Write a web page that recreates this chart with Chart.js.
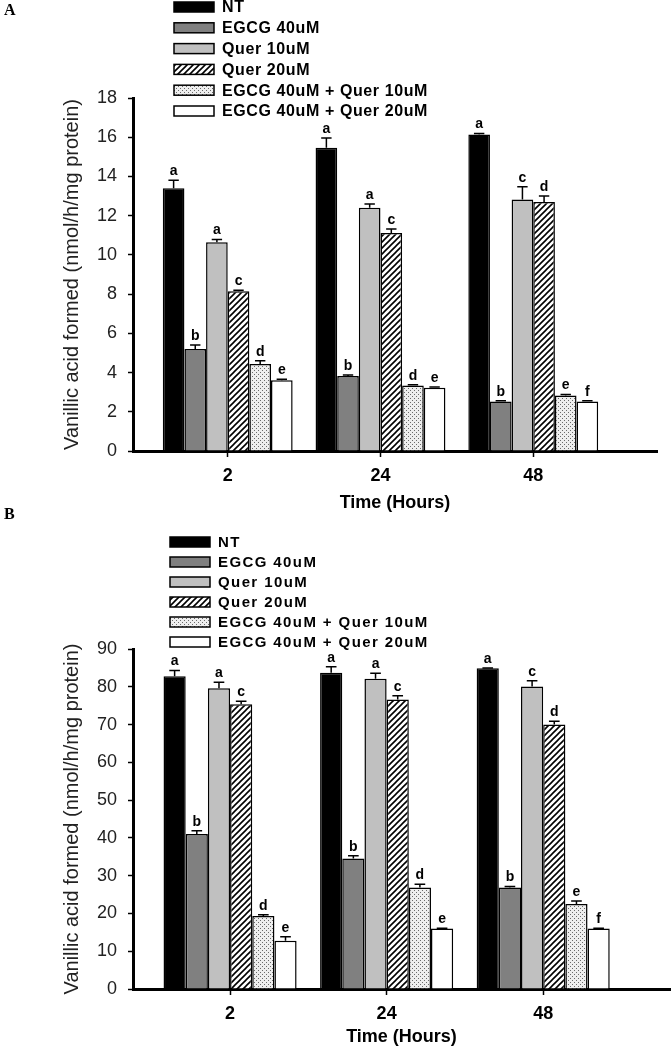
<!DOCTYPE html>
<html>
<head>
<meta charset="utf-8">
<script src="https://cdn.jsdelivr.net/npm/chart.js@4.4.1/dist/chart.umd.min.js"></script>
<style>
    html, body { margin: 0; padding: 0; background: #fff; }
    body { width: 671px; height: 1050px; position: relative; overflow: hidden; }
    canvas { position: absolute; left: 0; }
    #chartA { top: 0; }
    #chartB { top: 500px; }
</style>
</head>
<body>
<canvas id="chartA" width="671" height="525"></canvas>
<canvas id="chartB" width="671" height="550"></canvas>
<script>
// time points (hours)
const timeLabels = ['2', '24', '48'];
const seriesNames = ['NT', 'EGCG 40uM', 'Quer 10uM', 'Quer 20uM', 'EGCG 40uM + Quer 10uM', 'EGCG 40uM + Quer 20uM'];

// panel A values
const ntA = [13.4, 15.46, 16.14];
const egcgA = [5.2, 3.83, 2.52];
const quer10A = [10.64, 12.4, 12.82];
const quer20A = [8.14, 11.12, 12.7];
const mix10A = [4.44, 3.34, 2.83];
const mix20A = [3.61, 3.22, 2.52];
// panel A error (upper)
const ntErrA = [0.4, 0.5, 0.05];
const egcgErrA = [0.2, 0.05, 0.04];
const quer10ErrA = [0.14, 0.2, 0.65];
const quer20ErrA = [0.06, 0.2, 0.3];
const mix10ErrA = [0.16, 0.04, 0.05];
const mix20ErrA = [0.05, 0.04, 0.04];
// panel A significance letters
const lettersA = [
    ['a', 'a', 'a'],
    ['b', 'b', 'b'],
    ['a', 'a', 'c'],
    ['c', 'c', 'd'],
    ['d', 'd', 'e'],
    ['e', 'e', 'f']
];
const yTicksA = [0, 2, 4, 6, 8, 10, 12, 14, 16, 18];

// panel B values
const ntB = [82.8, 83.7, 84.9];
const egcgB = [41.0, 34.55, 26.9];
const quer10B = [79.6, 82.1, 80.1];
const quer20B = [75.4, 76.6, 70.0];
const mix10B = [19.35, 26.9, 22.5];
const mix20B = [12.8, 16.0, 16.0];
const ntErrB = [1.5, 1.6, 0.1];
const egcgErrB = [0.9, 0.7, 0.2];
const quer10ErrB = [1.6, 1.5, 1.5];
const quer20ErrB = [0.8, 1.0, 0.9];
const mix10ErrB = [0.3, 0.8, 0.8];
const mix20ErrB = [1.0, 0.1, 0.1];
const lettersB = [
    ['a', 'a', 'a'],
    ['b', 'b', 'b'],
    ['a', 'a', 'c'],
    ['c', 'c', 'd'],
    ['d', 'd', 'e'],
    ['e', 'e', 'f']
];
const yTicksB = [0, 10, 20, 30, 40, 50, 60, 70, 80, 90];

const makeHatch = ctx => {
    const tile = document.createElement('canvas');
    tile.width = 6; tile.height = 6;
    const g = tile.getContext('2d');
    g.fillStyle = '#fff';
    g.fillRect(0, 0, 6, 6);
    g.strokeStyle = '#000';
    g.lineWidth = 1.6;
    g.beginPath();
    g.moveTo(0, 6); g.lineTo(6, 0);
    g.moveTo(-3, 3); g.lineTo(3, -3);
    g.moveTo(3, 9); g.lineTo(9, 3);
    g.stroke();
    return ctx.createPattern(tile, 'repeat');
};

const makeDots = ctx => {
    const tile = document.createElement('canvas');
    tile.width = 4; tile.height = 4;
    const g = tile.getContext('2d');
    g.fillStyle = '#eeeeee';
    g.fillRect(0, 0, 4, 4);
    g.fillStyle = '#6a6a6a';
    g.fillRect(0, 0, 1, 1);
    g.fillRect(2, 2, 1, 1);
    return ctx.createPattern(tile, 'repeat');
};

const errorBars = {
    id: 'errorBars',
    afterDatasetsDraw(chart) {
        const ctx = chart.ctx;
        const yScale = chart.scales.y;
        ctx.save();
        chart.data.datasets.forEach((ds, i) => {
            const meta = chart.getDatasetMeta(i);
            meta.data.forEach((bar, j) => {
                const top = yScale.getPixelForValue(ds.data[j].y + ds.errors[j]);
                const half = bar.width * 0.24;
                ctx.strokeStyle = '#000';
                ctx.lineWidth = 1.5;
                ctx.beginPath();
                ctx.moveTo(bar.x, bar.y);
                ctx.lineTo(bar.x, top);
                ctx.moveTo(bar.x - half, top);
                ctx.lineTo(bar.x + half, top);
                ctx.stroke();
                ctx.fillStyle = '#000';
                ctx.font = 'bold 14px Arial';
                ctx.textAlign = 'center';
                ctx.textBaseline = 'bottom';
                ctx.fillText(ds.letters[j], bar.x, top - 2);
            });
        });
        ctx.restore();
    }
};

const sideLegend = {
    id: 'sideLegend',
    afterDraw(chart, args, opts) {
        const ctx = chart.ctx;
        ctx.save();
        ctx.font = opts.font;
        ctx.letterSpacing = opts.spacing || '0px';
        ctx.textBaseline = 'middle';
        ctx.textAlign = 'left';
        chart.data.datasets.forEach((ds, i) => {
            const y = opts.y + i * opts.step;
            ctx.fillStyle = ds.backgroundColor;
            ctx.fillRect(opts.x, y - 5, 40, 10);
            ctx.lineWidth = 1.5;
            ctx.strokeStyle = '#000';
            ctx.strokeRect(opts.x, y - 5, 40, 10);
            ctx.fillStyle = '#000';
            ctx.fillText(ds.label, opts.x + 48, y + 1);
        });
        ctx.font = 'bold 16px "Liberation Serif", "Times New Roman", serif';
        ctx.letterSpacing = '0px';
        ctx.fillText(opts.tag, opts.tagX, opts.tagY);
        ctx.restore();
    }
};

const buildChart = (id, panel) => {
    const canvas = document.getElementById(id);
    const ctx = canvas.getContext('2d');
    const fills = ['#000000', '#808080', '#c0c0c0', makeHatch(ctx), makeDots(ctx), '#ffffff'];

    const datasets = panel.values.map((vals, i) => ({
        label: seriesNames[i],
        data: vals.map((v, j) => ({ x: j, y: v })),
        errors: panel.errors[i],
        letters: panel.letters[i],
        backgroundColor: fills[i],
        borderColor: '#000',
        borderWidth: 1.5,
        barPercentage: 1,
        categoryPercentage: 0.85
    }));

    return new Chart(canvas, {
        type: 'bar',
        data: { datasets: datasets },
        options: {
            responsive: false,
            animation: false,
            layout: { padding: { top: panel.top, right: panel.right, left: 0, bottom: 0 } },
            plugins: {
                legend: { display: false },
                tooltip: { enabled: false },
                sideLegend: panel.legend
            },
            scales: {
                x: {
                    type: 'linear',
                    min: -0.62,
                    max: 2.81,
                    offset: false,
                    afterBuildTicks: s => { s.ticks = timeLabels.map((t, i) => ({ value: i })); },
                    afterFit: s => { s.height = panel.xHeight; },
                    ticks: {
                        callback: (v, i) => timeLabels[i],
                        font: { family: 'Arial', size: 18, weight: 'bold' },
                        color: '#000',
                        padding: 8,
                        maxRotation: 0
                    },
                    grid: { drawOnChartArea: false, offset: false, tickLength: 6, tickColor: '#000', tickWidth: 1.5 },
                    border: { color: '#000', width: 3 },
                    title: {
                        display: true,
                        text: 'Time (Hours)',
                        font: { family: 'Arial', size: 18, weight: 'bold' },
                        color: '#000',
                        padding: { top: 0, bottom: panel.xTitlePad }
                    }
                },
                y: {
                    min: 0,
                    max: panel.yMax,
                    afterBuildTicks: s => { s.ticks = panel.yTicks.map(v => ({ value: v })); },
                    afterFit: s => { s.width = 133; },
                    ticks: {
                        font: { family: 'Arial', size: 18 },
                        color: '#222',
                        padding: 11
                    },
                    grid: { drawOnChartArea: false, tickLength: 5, tickColor: '#000', tickWidth: 1.5 },
                    border: { color: '#000', width: 3 },
                    title: {
                        display: true,
                        text: 'Vanillic acid formed (nmol/h/mg protein)',
                        font: { family: 'Arial', size: 20 },
                        color: '#222',
                        padding: { top: 60, bottom: 0 }
                    }
                }
            }
        },
        plugins: [errorBars, sideLegend]
    });
};

buildChart('chartA', {
    values: [ntA, egcgA, quer10A, quer20A, mix10A, mix20A],
    errors: [ntErrA, egcgErrA, quer10ErrA, quer20ErrA, mix10ErrA, mix20ErrA],
    letters: lettersA,
    yMax: 18,
    yTicks: yTicksA,
    top: 98,
    right: 14,
    xHeight: 74,
    xTitlePad: 11,
    legend: { x: 174, y: 7, step: 20.8, font: 'bold 16px Arial', spacing: '0.6px', tag: 'A', tagX: 4, tagY: 11 }
});

buildChart('chartB', {
    values: [ntB, egcgB, quer10B, quer20B, mix10B, mix20B],
    errors: [ntErrB, egcgErrB, quer10ErrB, quer20ErrB, mix10ErrB, mix20ErrB],
    letters: lettersB,
    yMax: 90,
    yTicks: yTicksB,
    top: 149,
    right: 1,
    xHeight: 61,
    xTitlePad: 2,
    legend: { x: 170, y: 42, step: 20, font: 'bold 15px Arial', spacing: '1.4px', tag: 'B', tagX: 4, tagY: 15 }
});
</script>
</body>
</html>
